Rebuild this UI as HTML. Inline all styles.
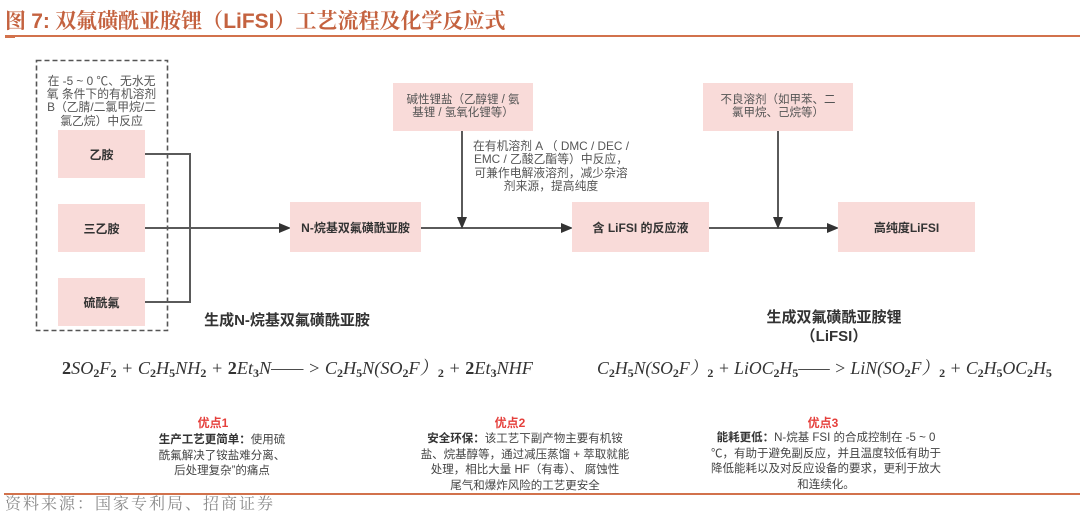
<!DOCTYPE html>
<html><head><meta charset="utf-8">
<style>
*{margin:0;padding:0;box-sizing:border-box}
body{width:1080px;height:524px;background:#fff;position:relative;overflow:hidden;font-family:"Liberation Sans","Noto Sans CJK SC",sans-serif;color:#333}
.abs{position:absolute}
.title{left:5px;top:8px;font-size:21px;line-height:26px;color:#c4623f;white-space:nowrap;font-family:"Liberation Serif","Noto Serif CJK SC",serif;font-weight:bold}
.title b{font-family:"Liberation Sans","Noto Sans CJK SC",sans-serif;font-weight:bold}
.box{position:absolute;background:#f9dbd9;display:flex;align-items:center;justify-content:center;text-align:center;font-size:12px;font-weight:bold;color:#333}
.note{position:absolute;text-align:center;font-size:11.5px;line-height:13.3px;color:#555;white-space:nowrap}
.lab{position:absolute;text-align:center;font-size:15px;font-weight:bold;color:#333;white-space:nowrap;line-height:19px}
.eq{position:absolute;font-family:"Liberation Serif","Noto Serif CJK SC",serif;font-style:italic;font-size:18px;color:#333;white-space:nowrap;line-height:22px}
.eq b{font-style:normal;font-weight:bold}
.eq sub{font-size:12px;vertical-align:-3px;font-style:normal;font-weight:bold}
.adv{position:absolute;text-align:center;font-size:12px;font-weight:bold;color:#e5403c;white-space:nowrap}
.body{position:absolute;text-align:center;font-size:11.5px;line-height:15.5px;color:#444;white-space:nowrap}
.body b{color:#333}
.src{left:5px;top:495px;font-size:16px;letter-spacing:2px;color:#8a8a8a;font-family:"Liberation Serif","Noto Serif CJK SC",serif;white-space:nowrap;line-height:20px}
</style></head><body>

<div class="abs title">图 <b>7:</b>&nbsp;双氟磺酰亚胺锂（<b>LiFSI</b>）工艺流程及化学反应式</div>
<div class="abs" style="left:5px;top:35px;width:1075px;height:2px;background:#d2724c"></div>
<div class="abs" style="left:5px;top:35px;width:10px;height:3px;background:#d2724c"></div>

<svg class="abs" style="left:0;top:0" width="1080" height="524">
  <rect x="36.5" y="60.5" width="131" height="270" fill="none" stroke="#555" stroke-width="1.6" stroke-dasharray="5,3"/>
  <g stroke="#5a5a5a" stroke-width="2" fill="none">
    <path d="M145 154H190V302H145"/>
    <path d="M145 228H281"/>
    <path d="M421 228H563"/>
    <path d="M462 131V219"/>
    <path d="M709 228H829"/>
    <path d="M778 131V219"/>
  </g>
  <g fill="#333">
    <path d="M291 228L279 223V233Z"/>
    <path d="M573 228L561 223V233Z"/>
    <path d="M839 228L827 223V233Z"/>
    <path d="M462 229L457 217H467Z"/>
    <path d="M778 229L773 217H783Z"/>
  </g>
</svg>

<div class="note" style="left:36px;top:75px;width:131px;line-height:13.2px;font-size:11.8px">在 -5 ~ 0 ℃、无水无<br>氧 条件下的有机溶剂<br>B（乙腈/二氯甲烷/二<br>氯乙烷）中反应</div>

<div class="box" style="left:58px;top:130px;width:87px;height:48px">乙胺</div>
<div class="box" style="left:58px;top:204px;width:87px;height:48px">三乙胺</div>
<div class="box" style="left:58px;top:278px;width:87px;height:48px">硫酰氟</div>

<div class="box" style="left:290px;top:202px;width:131px;height:50px">N-烷基双氟磺酰亚胺</div>
<div class="box" style="left:572px;top:202px;width:137px;height:50px">含 LiFSI 的反应液</div>
<div class="box" style="left:838px;top:202px;width:137px;height:50px">高纯度LiFSI</div>

<div class="box" style="left:393px;top:83px;width:140px;height:48px;font-weight:normal;font-size:11.5px;line-height:13.3px;color:#555">碱性锂盐（乙醇锂 / 氨<br>基锂 / 氢氧化锂等）</div>
<div class="box" style="left:703px;top:83px;width:150px;height:48px;font-weight:normal;font-size:11.5px;line-height:13.3px;color:#555">不良溶剂（如甲苯、二<br>氯甲烷、己烷等）</div>

<div class="note" style="left:461px;top:140px;width:180px;font-size:11.8px">在有机溶剂 A （ DMC / DEC /<br>EMC / 乙酸乙酯等）中反应，<br>可兼作电解液溶剂，减少杂溶<br>剂来源，提高纯度</div>

<div class="lab" style="left:187px;top:311px;width:200px">生成N-烷基双氟磺酰亚胺</div>
<div class="lab" style="left:734px;top:308px;width:200px">生成双氟磺酰亚胺锂<br>（LiFSI）</div>

<div class="eq" style="left:62px;top:357px;font-size:18.2px"><b>2</b>SO<sub>2</sub>F<sub>2</sub> + C<sub>2</sub>H<sub>5</sub>NH<sub>2</sub> + <b>2</b>Et<sub>3</sub>N—— &gt; C<sub>2</sub>H<sub>5</sub>N(SO<sub>2</sub>F）<sub>2</sub> + <b>2</b>Et<sub>3</sub>NHF</div>
<div class="eq" style="left:597px;top:357px;font-size:17.7px">C<sub>2</sub>H<sub>5</sub>N(SO<sub>2</sub>F）<sub>2</sub> + LiOC<sub>2</sub>H<sub>5</sub>—— &gt; LiN(SO<sub>2</sub>F）<sub>2</sub> + C<sub>2</sub>H<sub>5</sub>OC<sub>2</sub>H<sub>5</sub></div>

<div class="adv" style="left:163px;top:414px;width:100px">优点1</div>
<div class="body" style="left:132px;top:433px;width:180px"><b>生产工艺更简单：</b>使用硫<br>酰氟解决了铵盐难分离、<br>后处理复杂”的痛点</div>

<div class="adv" style="left:460px;top:414px;width:100px">优点2</div>
<div class="body" style="left:405px;top:432px;width:240px"><b>安全环保：</b>该工艺下副产物主要有机铵<br>盐、烷基醇等，通过减压蒸馏 + 萃取就能<br>处理，相比大量 HF（有毒）、 腐蚀性<br>尾气和爆炸风险的工艺更安全</div>

<div class="adv" style="left:773px;top:414px;width:100px">优点3</div>
<div class="body" style="left:701px;top:431px;width:250px"><b>能耗更低：</b>N-烷基 FSI 的合成控制在 -5 ~ 0<br>℃，有助于避免副反应，并且温度较低有助于<br>降低能耗以及对反应设备的要求，更利于放大<br>和连续化。</div>

<div class="abs" style="left:4px;top:493px;width:1076px;height:2px;background:#d2724c"></div>
<div class="abs src">资料来源：国家专利局、招商证券</div>

</body></html>
